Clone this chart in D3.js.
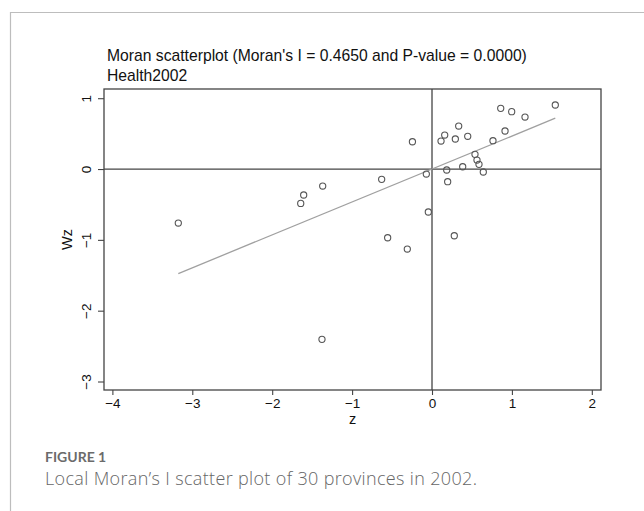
<!DOCTYPE html>
<html>
<head>
<meta charset="utf-8">
<script src="https://cdn.jsdelivr.net/npm/d3@7"></script>
<style>
  html, body { margin: 0; padding: 0; background: #fff; }
  svg { display: block; }
</style>
</head>
<body>
<svg id="chart" width="644" height="511"></svg>
<script>
// ---- data ----
const titleText = "Moran scatterplot (Moran's I = 0.4650 and P-value = 0.0000)";
const subtitleText = "Health2002";
const moranI = 0.465;
const xTicks = [-4, -3, -2, -1, 0, 1, 2];
const yTicks = [-3, -2, -1, 0, 1];
const zValues = [
  -0.245, 0.113, 0.159, 0.334, 0.292, 0.447, 0.860, 0.997, 1.164, 1.543,
   0.914, 0.763, 0.538, 0.563, 0.588, 0.642, 0.384, 0.184, 0.196, -0.071,
  -0.046, 0.279, -0.555, -0.309, -0.630, -3.175, -1.643, -1.606, -1.368, -1.377
];
const wzValues = [
   0.385, 0.395, 0.480, 0.607, 0.424, 0.462, 0.857, 0.810, 0.734, 0.904,
   0.537, 0.400, 0.207, 0.127, 0.066, -0.042, 0.032, -0.014, -0.179, -0.071,
  -0.607, -0.942, -0.970, -1.130, -0.146, -0.763, -0.485, -0.367, -0.240, -2.405
];
const captionLabel = "FIGURE 1";
const captionText = "Local Moran\u2019s I scatter plot of 30 provinces in 2002.";

// ---- layout ----
const svg = d3.select("#chart");
const plot = { left: 104, right: 601, top: 89, bottom: 390 };

const x = d3.scaleLinear().domain([-4.105, 2.115]).range([plot.left, plot.right]);
const y = d3.scaleLinear().domain([-3.12, 1.13]).range([plot.bottom, plot.top]);

// outer frame (partial, as in the source)
svg.append("path")
  .attr("d", `M10.5,511 V12.5 H644`)
  .attr("fill", "none").attr("stroke", "#bdbdbd").attr("stroke-width", 1.2);

// title
const tFont = "'Liberation Sans', Arial, sans-serif";
svg.append("text").attr("x", 107).attr("y", 61)
  .attr("font-family", tFont).attr("font-size", 15.7).attr("fill", "#111")
  .text(titleText);
svg.append("text").attr("x", 107).attr("y", 81)
  .attr("font-family", tFont).attr("font-size", 15.7).attr("fill", "#111")
  .text(subtitleText);

// axes
const gx = svg.append("g").attr("transform", `translate(0,${plot.bottom})`)
  .call(d3.axisBottom(x).tickValues(xTicks).tickSize(5).tickPadding(3).tickFormat(d3.format("d")));
const gy = svg.append("g").attr("transform", `translate(${plot.left},0)`)
  .call(d3.axisLeft(y).tickValues(yTicks).tickSize(6).tickPadding(0).tickFormat(d3.format("d")));
[gx, gy].forEach(g => {
  g.attr("font-size", 13.5).attr("font-family", tFont);
  g.select(".domain").remove();
  g.selectAll(".tick line").attr("stroke", "#444").attr("stroke-width", 1.1);
  g.selectAll(".tick text").attr("font-family", tFont).attr("font-size", 13.5).attr("fill", "#111");
});
// rotated y tick labels
gy.selectAll(".tick text")
  .attr("x", null).attr("dy", null)
  .attr("text-anchor", "middle")
  .attr("transform", "translate(-18,0) rotate(-90)")
  .attr("dy", "0.36em");

// plot box
svg.append("rect")
  .attr("x", plot.left).attr("y", plot.top)
  .attr("width", plot.right - plot.left).attr("height", plot.bottom - plot.top)
  .attr("fill", "none").attr("stroke", "#444").attr("stroke-width", 1.3);

// reference lines at 0
svg.append("line").attr("x1", x(0)).attr("x2", x(0)).attr("y1", plot.top).attr("y2", plot.bottom)
  .attr("stroke", "#444").attr("stroke-width", 1.3);
svg.append("line").attr("x1", plot.left).attr("x2", plot.right).attr("y1", y(0)).attr("y2", y(0))
  .attr("stroke", "#444").attr("stroke-width", 1.3);

// fitted line (slope = Moran's I)
const xExt = d3.extent(zValues);
svg.append("line")
  .attr("x1", x(xExt[0])).attr("y1", y(moranI * xExt[0]))
  .attr("x2", x(xExt[1])).attr("y2", y(moranI * xExt[1]))
  .attr("stroke", "#a0a0a0").attr("stroke-width", 1.3);

// points
const pts = zValues.map((z, i) => ({ z, wz: wzValues[i] }));
svg.append("g").selectAll("circle").data(pts).join("circle")
  .attr("cx", d => x(d.z)).attr("cy", d => y(d.wz)).attr("r", 3.1)
  .attr("fill", "none").attr("stroke", "#555").attr("stroke-width", 1.1);

// axis titles
svg.append("text").attr("x", (plot.left + plot.right) / 2).attr("y", 424)
  .attr("text-anchor", "middle").attr("font-family", tFont).attr("font-size", 14.5).attr("fill", "#111")
  .text("z");
svg.append("text").attr("transform", `translate(72,${(plot.top + plot.bottom) / 2}) rotate(-90)`)
  .attr("text-anchor", "middle").attr("font-family", tFont).attr("font-size", 14.5).attr("fill", "#111")
  .text("Wz");

// caption
svg.append("text").attr("x", 45).attr("y", 462)
  .attr("font-family", "Lato, 'Open Sans', sans-serif").attr("font-weight", 700)
  .attr("font-size", 14).attr("fill", "#6b6b6b")
  .text(captionLabel);
svg.append("text").attr("x", 45).attr("y", 485)
  .attr("font-family", "'Open Sans', Lato, sans-serif").attr("font-weight", 300)
  .attr("font-size", 18).attr("letter-spacing", 0.34).attr("fill", "#666")
  .text(captionText);
</script>
</body>
</html>
